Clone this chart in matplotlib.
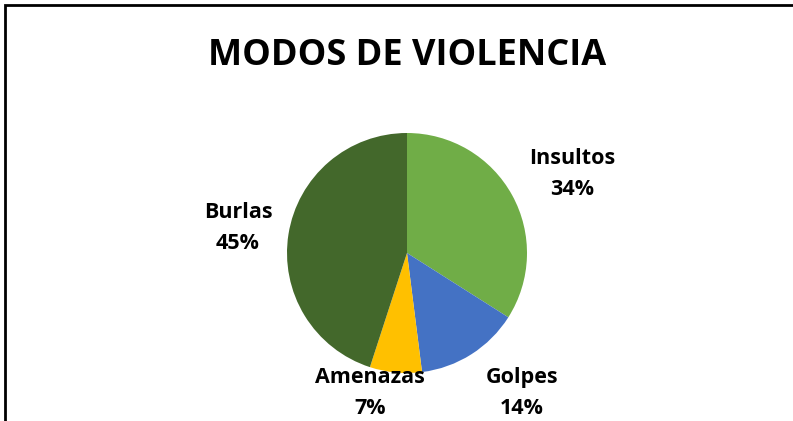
import matplotlib
matplotlib.use("Agg")
import matplotlib.pyplot as plt

title = "MODOS DE VIOLENCIA"
categories = ["Insultos", "Golpes", "Amenazas", "Burlas"]
values = [34, 14, 7, 45]
colors = ["#70AD47", "#4472C4", "#FFC000", "#43682B"]
# label centres in pixel coords (x, y from top)
label_pos = [(572, 174), (522, 393), (370, 393), (238, 228)]

W, H = 793, 421
fig = plt.figure(figsize=(W / 100, H / 100), dpi=100)
ax = fig.add_axes([0, 0, 1, 1])

ax.pie(values, colors=colors, startangle=90, counterclock=False,
       center=(407, H - 253), radius=120, frame=True,
       wedgeprops=dict(linewidth=0))
ax.set_xlim(0, W)
ax.set_ylim(0, H)
ax.set_aspect("equal")
ax.axis("off")

fam = ["Open Sans", "DejaVu Sans"]
for cat, v, (px, py) in zip(categories, values, label_pos):
    ax.text(px, H - py, f"{cat}\n{v}%", ha="center", va="center",
            fontsize=15.5, fontweight="bold", family=fam, linespacing=1.65,
            color="black")

ax.text(407, H - 56, title, ha="center", va="center", fontsize=26,
        fontweight="bold", family=fam, color="black")

# outer border (top and left visible)
ax.plot([5, 5, W + 5], [-5, H - 5, H - 5], color="black", lw=2,
        solid_joinstyle="miter", clip_on=False)

fig.savefig("out.png", dpi=100)
